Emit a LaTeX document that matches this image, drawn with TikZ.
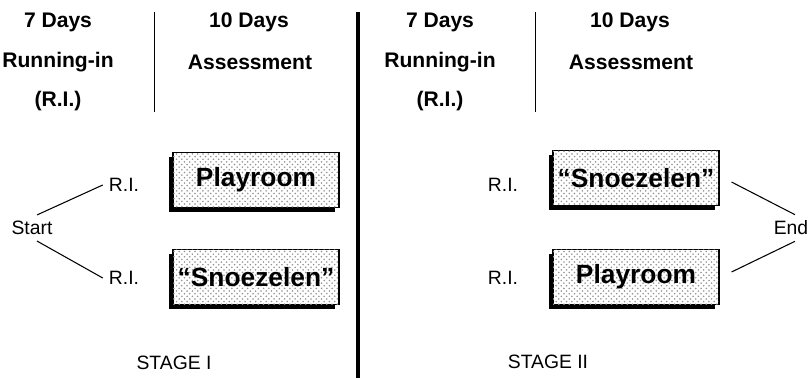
\documentclass[tikz,border=0pt]{standalone}
\usepackage{fontspec}
\setmainfont{Liberation Sans}
\usetikzlibrary{positioning,calc,shadows,patterns}

\begin{document}
\begin{tikzpicture}[
    x=0.02cm, y=-0.02cm,
    head/.style={font=\fontsize{12}{14}\selectfont\bfseries},
    lbl/.style={font=\fontsize{11}{13}\selectfont},
    room/.style={draw, line width=0.6pt, fill=white,
      postaction={pattern=crosshatch dots, pattern color=gray!85},
      minimum width=3.32cm, minimum height=1.1cm, inner sep=1pt,
      font=\fontsize{15}{17}\selectfont\bfseries,
      drop shadow={shadow xshift=-0.08cm, shadow yshift=-0.09cm,
        fill=black, opacity=1}},
    link/.style={line width=0.6pt},
  ]
  \useasboundingbox (0,0) rectangle (809,378);

  % Left: stage I
  \node[head] (ldays) at (58,22) {7 Days};
  \node[head] (lrun) at (58,62) {Running-in};
  \node[head] (lri) at (58,101) {(R.I.)};
  \node[head] (lten) at (249,22) {10 Days};
  \node[head] (lass) at (250,62) {Assessment};
  \draw[line width=0.5pt] (154,12) -- (154,112);

  \node[lbl] (start) at (32,228) {Start};
  \node[lbl] (lri1) at (124,185) {R.I.};
  \node[lbl] (lri2) at (124,278) {R.I.};
  \node[room] (lroom1) at (256,180) {Playroom};
  \node[room] (lroom2) at (256,277) {``Snoezelen''};

  \draw[link] ([xshift=0.1cm]start.north) -- (lri1.west);
  \draw[link] ([xshift=0.1cm]start.south) -- (lri2.west);

  \node[lbl] (lstage) at (174,363) {STAGE I};

  % Divider
  \draw[line width=2.3pt] (358,12) -- (358,378);

  % Right: stage II
  \node[head] (rdays) at (440,22) {7 Days};
  \node[head] (rrun) at (440,62) {Running-in};
  \node[head] (rri) at (440,101) {(R.I.)};
  \node[head] (rten) at (630,22) {10 Days};
  \node[head] (rass) at (631,62) {Assessment};
  \draw[line width=0.5pt] (535,12) -- (535,112);

  \node[lbl] (rri1) at (503,185) {R.I.};
  \node[lbl] (rri2) at (503,278) {R.I.};
  \node[room] (rroom1) at (636,178) {``Snoezelen''};
  \node[room] (rroom2) at (636,277) {Playroom};
  \node[lbl] (end) at (791,228) {End};

  \draw[link] ([xshift=0.24cm,yshift=-0.08cm]rroom1.east)
    -- ([xshift=0.08cm]end.north);
  \draw[link] ([xshift=0.24cm,yshift=0.1cm]rroom2.east)
    -- ([xshift=0.08cm]end.south);

  \node[lbl] (rstage) at (548,362) {STAGE II};

\end{tikzpicture}
\end{document}
